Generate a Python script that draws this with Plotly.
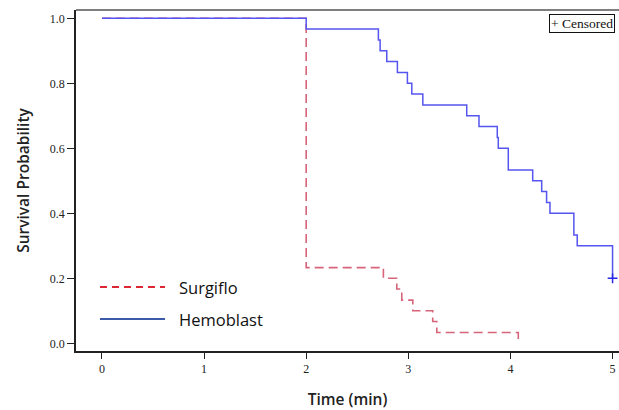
import plotly.graph_objects as go

# Kaplan-Meier step data
hemo_time = [0, 2.0, 2.707, 2.724, 2.789, 2.893, 2.991, 3.034, 3.142, 3.572, 3.692,
             3.871, 3.881, 3.979, 4.218, 4.306, 4.354, 4.387, 4.621, 4.654, 5.0]
hemo_surv = [1.0, 0.967, 0.933, 0.9, 0.867, 0.833, 0.8, 0.767, 0.733, 0.7, 0.667,
             0.633, 0.6, 0.533, 0.5, 0.467, 0.433, 0.4, 0.333, 0.3, 0.2]
surg_time = [0, 2.0, 2.756, 2.887, 2.936, 3.044, 3.239, 3.279, 4.077]
surg_surv = [1.0, 0.233, 0.2, 0.167, 0.133, 0.1, 0.067, 0.033, 0.0]
cens_time = [5.0]
cens_surv = [0.2]

x_ticks = [0, 1, 2, 3, 4, 5]
y_ticks = [0.0, 0.2, 0.4, 0.6, 0.8, 1.0]
y_tick_labels = ["0.0", "0.2", "0.4", "0.6", "0.8", "1.0"]
series_names = ["Surgiflo", "Hemoblast"]

W, H = 619, 410
ML, MR, MT, MB = 76, 0, 10, 59

fig = go.Figure()
fig.add_trace(go.Scatter(x=surg_time, y=surg_surv, mode="lines", line_shape="hv",
                         line=dict(color="rgb(216,100,122)", width=1.6, dash="9px,5px"),
                         showlegend=False))
fig.add_trace(go.Scatter(x=hemo_time, y=hemo_surv, mode="lines", line_shape="hv",
                         line=dict(color="rgb(85,85,240)", width=1.5),
                         showlegend=False))
fig.add_trace(go.Scatter(x=cens_time, y=cens_surv, mode="markers",
                         marker=dict(symbol="cross-thin", size=7,
                                     line=dict(color="rgb(40,40,230)", width=1.5)),
                         showlegend=False))

tickfont = dict(family="Liberation Serif", size=12, color="#222")
titlefont = dict(family="Open Sans", size=15.5, color="#222", weight=600)
fig.update_xaxes(range=[-0.254, 5.063], tickvals=x_ticks, ticks="outside", ticklen=6,
                 tickwidth=1.2, tickcolor="#222", showline=True, linecolor="#222",
                 linewidth=1.5, showgrid=False, zeroline=False, tickfont=tickfont,
                 automargin=False,
                 title=dict(text="Time (min)", standoff=30, font=titlefont))
fig.update_yaxes(range=[-0.0237, 1.0256], tickvals=y_ticks, ticktext=y_tick_labels,
                 ticks="outside", ticklen=7, tickwidth=1.2, tickcolor="#222",
                 showline=True, linecolor="#222", linewidth=1.5, showgrid=False,
                 zeroline=False, tickfont=tickfont, automargin=False,
                 title=dict(text="Survival Probability", standoff=16, font=titlefont))

pw = W - ML - MR
ph = H - MT - MB
def px(x):
    return (x - ML) / pw
def py(y):
    return 1 - (y - MT) / ph

shapes = [
    dict(type="line", xref="paper", yref="paper", x0=0, x1=1, y0=1, y1=1,
         line=dict(color="#555", width=1.5)),
    dict(type="line", xref="paper", yref="paper", x0=px(100), x1=px(165), y0=py(287), y1=py(287),
         line=dict(color="rgb(220,40,50)", width=2, dash="7px,5px")),
    dict(type="line", xref="paper", yref="paper", x0=px(100), x1=px(165), y0=py(319), y1=py(319),
         line=dict(color="rgb(60,90,170)", width=2)),
]
annotations = [
    dict(xref="paper", yref="paper", x=px(177), y=py(287), xanchor="left", yanchor="middle",
         text=series_names[0], showarrow=False,
         font=dict(family="Open Sans", size=16.5, color="#111")),
    dict(xref="paper", yref="paper", x=px(177), y=py(319), xanchor="left", yanchor="middle",
         text=series_names[1], showarrow=False,
         font=dict(family="Open Sans", size=16.5, color="#111")),
    dict(xref="paper", yref="paper", x=px(615), y=py(14), xanchor="right", yanchor="top",
         text="+ Censored", showarrow=False, bordercolor="#111", borderwidth=1, borderpad=1,
         font=dict(family="Liberation Serif", size=13.5, color="#111")),
]

fig.update_layout(width=W, height=H, margin=dict(l=ML, r=MR, t=MT, b=MB),
                  plot_bgcolor="white", paper_bgcolor="white",
                  shapes=shapes, annotations=annotations, showlegend=False)

fig.write_html("out.html", config={"displayModeBar": False},
               post_script="document.body.style.margin='0';document.body.style.overflow='hidden';")
